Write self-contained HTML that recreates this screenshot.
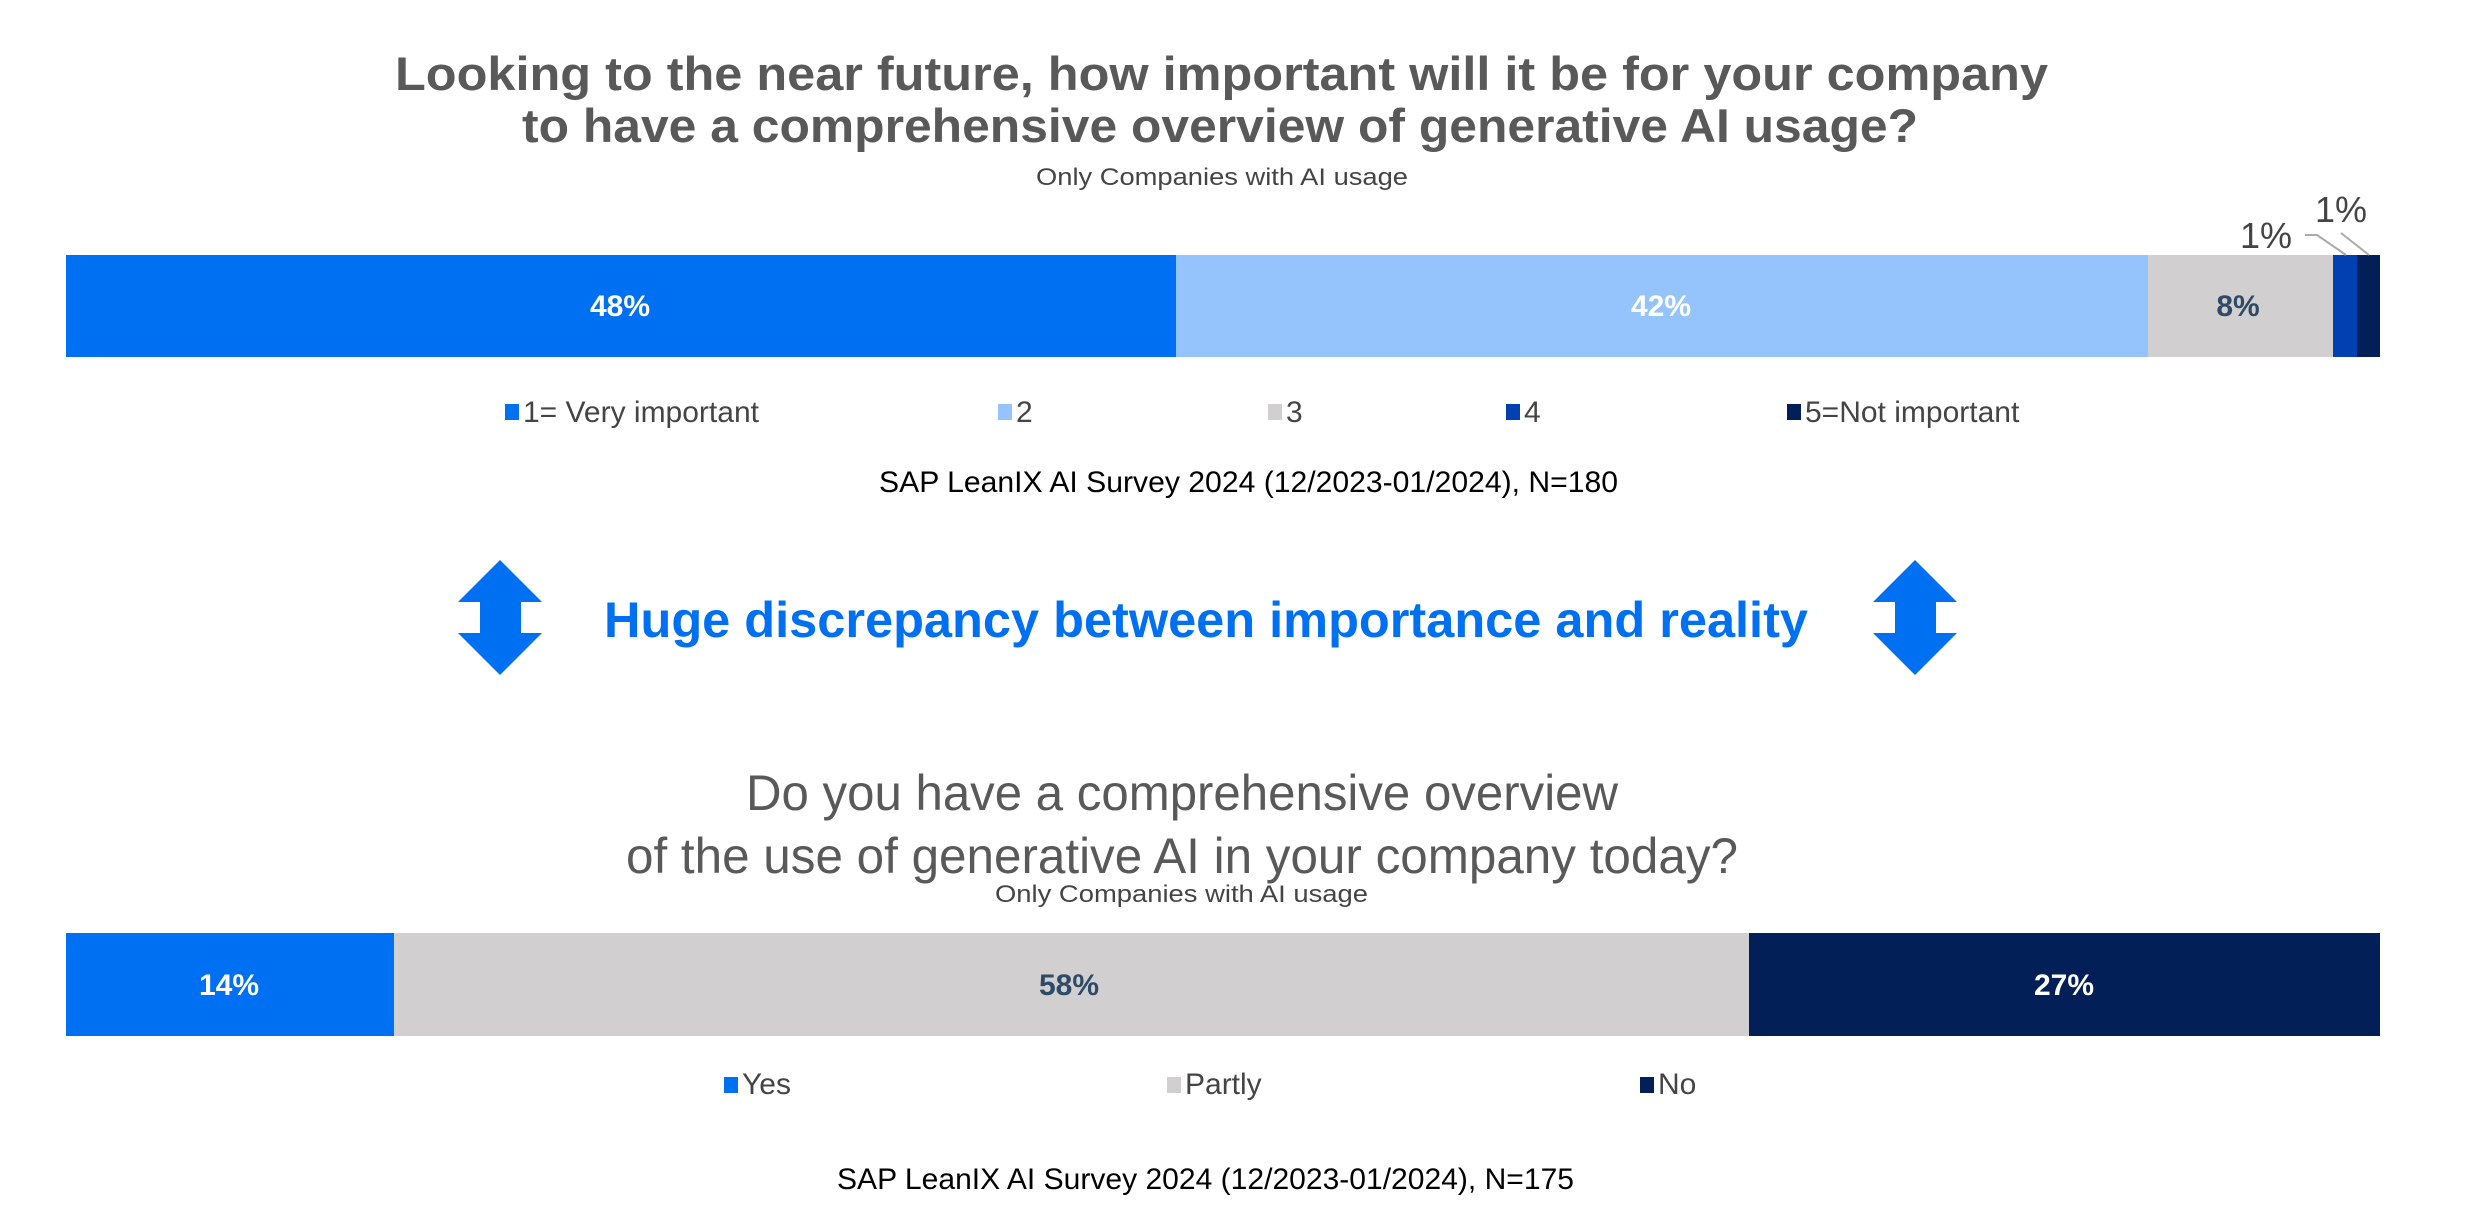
<!DOCTYPE html>
<html><head><meta charset="utf-8"><style>
html,body{margin:0;padding:0;background:#fff;}
svg{display:block;font-family:"Liberation Sans",sans-serif;}
</style></head><body>
<svg width="2480" height="1232" viewBox="0 0 2480 1232" xmlns="http://www.w3.org/2000/svg">
<rect width="2480" height="1232" fill="#fff"/>
<!-- Title 1 -->
<text x="395" y="90" font-size="47" font-weight="bold" fill="#595959" textLength="1653" lengthAdjust="spacingAndGlyphs">Looking to the near future, how important will it be for your company</text>
<text x="522" y="142" font-size="47" font-weight="bold" fill="#595959" textLength="1396" lengthAdjust="spacingAndGlyphs">to have a comprehensive overview of generative AI usage?</text>
<text x="1036" y="185" font-size="24" fill="#444" textLength="372" lengthAdjust="spacingAndGlyphs">Only Companies with AI usage</text>
<!-- Bar 1 -->
<rect x="66" y="255" width="1110" height="102" fill="#0070F2"/>
<rect x="1176" y="255" width="972" height="102" fill="#95C4FD"/>
<rect x="2148" y="255" width="185" height="102" fill="#D1CFD0"/>
<rect x="2333" y="255" width="24" height="102" fill="#0040B0"/>
<rect x="2357" y="255" width="23" height="102" fill="#021F57"/>
<g font-size="30" font-weight="bold" text-anchor="middle">
<text x="620" y="316" fill="#fff">48%</text>
<text x="1661" y="316" fill="#fff">42%</text>
<text x="2238" y="316" fill="#2E4A66">8%</text>
</g>
<text x="2240" y="248" font-size="36" fill="#444">1%</text>
<text x="2315" y="222" font-size="36" fill="#444">1%</text>
<polyline points="2305,235 2317,235 2346,255" fill="none" stroke="#aaa" stroke-width="2"/>
<line x1="2341" y1="233" x2="2369" y2="255" stroke="#aaa" stroke-width="2"/>
<!-- Legend 1 -->
<g font-size="30" fill="#444">
<rect x="505" y="404" width="14" height="16" fill="#0070F2"/><text x="523" y="422">1= Very important</text>
<rect x="998" y="404" width="14" height="16" fill="#95C4FD"/><text x="1016" y="422">2</text>
<rect x="1268" y="404" width="14" height="16" fill="#D1CFD0"/><text x="1286" y="422">3</text>
<rect x="1506" y="404" width="14" height="16" fill="#0040B0"/><text x="1524" y="422">4</text>
<rect x="1787" y="404" width="14" height="16" fill="#021F57"/><text x="1805" y="422">5=Not important</text>
</g>
<text x="879" y="492" font-size="30" fill="#000" textLength="739" lengthAdjust="spacingAndGlyphs">SAP LeanIX AI Survey 2024 (12/2023-01/2024), N=180</text>
<!-- Arrows -->
<polygon points="500,560 542,602 521,602 521,633 542,633 500,675 458,633 480,633 480,602 458,602" fill="#0070F2"/>
<polygon points="1915,560 1957,602 1936,602 1936,633 1957,633 1915,675 1873,633 1895,633 1895,602 1873,602" fill="#0070F2"/>
<text x="604" y="637" font-size="50" font-weight="bold" fill="#0070F2" textLength="1204" lengthAdjust="spacingAndGlyphs">Huge discrepancy between importance and reality</text>
<!-- Title 2 -->
<text x="746" y="810" font-size="50" fill="#595959" textLength="872" lengthAdjust="spacingAndGlyphs">Do you have a comprehensive overview</text>
<text x="626" y="873" font-size="50" fill="#595959" textLength="1112" lengthAdjust="spacingAndGlyphs">of the use of generative AI in your company today?</text>
<text x="995" y="902" font-size="24" fill="#444" textLength="373" lengthAdjust="spacingAndGlyphs">Only Companies with AI usage</text>
<!-- Bar 2 -->
<rect x="66" y="933" width="328" height="103" fill="#0070F2"/>
<rect x="394" y="933" width="1355" height="103" fill="#D1CFD0"/>
<rect x="1749" y="933" width="631" height="103" fill="#021F57"/>
<g font-size="30" font-weight="bold" text-anchor="middle">
<text x="229" y="995" fill="#fff">14%</text>
<text x="1069" y="995" fill="#2E4A66">58%</text>
<text x="2064" y="995" fill="#fff">27%</text>
</g>
<g font-size="30" fill="#444">
<rect x="724" y="1077" width="14" height="16" fill="#0070F2"/><text x="742" y="1094">Yes</text>
<rect x="1167" y="1077" width="14" height="16" fill="#D1CFD0"/><text x="1185" y="1094">Partly</text>
<rect x="1640" y="1077" width="14" height="16" fill="#021F57"/><text x="1658" y="1094">No</text>
</g>
<text x="837" y="1189" font-size="30" fill="#000" textLength="737" lengthAdjust="spacingAndGlyphs">SAP LeanIX AI Survey 2024 (12/2023-01/2024), N=175</text>
</svg>
</body></html>
